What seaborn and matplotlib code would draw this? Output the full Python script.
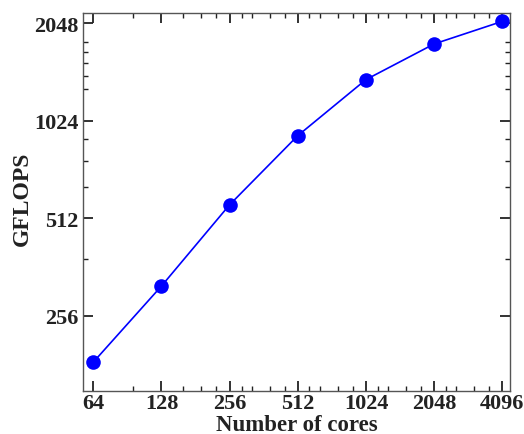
import matplotlib
matplotlib.use("Agg")
import matplotlib.pyplot as plt
import seaborn as sns
import pandas as pd
import numpy as np
from matplotlib.ticker import FixedLocator, FixedFormatter, NullFormatter

cores = [64, 128, 256, 512, 1024, 2048, 4096]
gflops = [184, 316, 563, 920, 1370, 1765, 2072]
x_ticks = [64, 128, 256, 512, 1024, 2048, 4096]
x_tick_labels = ["64", "128", "256", "512", "1024", "2048", "4096"]
y_ticks = [256, 512, 1024, 2048]
y_tick_labels = ["256", "512", "1024", "2048"]
x_minor = [96, 160, 192, 224, 290, 320, 384, 448, 576, 640, 768, 896,
           1152, 1280, 1536, 1792, 2304, 2560, 3072, 3584]
y_minor = [384, 640, 768, 896, 1280, 1408, 1536, 1664, 1792]

sns.set_style("ticks")
plt.rcParams['font.family'] = ['Liberation Serif', 'DejaVu Serif']
plt.rcParams['font.weight'] = 'bold'

df = pd.DataFrame({"cores": cores, "gflops": gflops})

fig = plt.figure(figsize=(5.24, 4.35), dpi=100)
ax = fig.add_axes([83/524, 1-392/435, (510-83)/524, (392-14)/435])

sns.lineplot(data=df, x="cores", y="gflops", ax=ax, color="#0000ff",
             marker="o", markersize=10.5, markeredgewidth=0, linewidth=1.2)

ax.set_xscale("log", base=2)
ax.set_yscale("log", base=2)
ax.set_xlim(64 * 2 ** -0.151, 4096 * 2 ** 0.113)
ax.set_ylim(256 * 2 ** -0.772, 2048 * 2 ** 0.1026)

ax.xaxis.set_major_locator(FixedLocator(x_ticks))
ax.xaxis.set_major_formatter(FixedFormatter(x_tick_labels))
ax.xaxis.set_minor_locator(FixedLocator(x_minor))
ax.xaxis.set_minor_formatter(NullFormatter())
ax.yaxis.set_major_locator(FixedLocator(y_ticks))
ax.yaxis.set_major_formatter(FixedFormatter(y_tick_labels))
ax.yaxis.set_minor_locator(FixedLocator(y_minor))
ax.yaxis.set_minor_formatter(NullFormatter())

for s in ax.spines.values():
    s.set_color("#555555")
    s.set_linewidth(1.0)

ax.tick_params(which="both", direction="in", top=True, right=True,
               colors="#222222", labelcolor="#222222")
ax.tick_params(which="major", length=7, width=1.3, labelsize=16, pad=3.5)
ax.tick_params(axis="x", which="major", pad=1.5)
ax.tick_params(which="minor", length=3.5, width=1.0)
for lab in ax.get_xticklabels() + ax.get_yticklabels():
    lab.set_fontweight("bold")

ax.set_xlabel("Number of cores", fontsize=16.5, fontweight="bold", color="#222222")
ax.set_ylabel("GFLOPS", fontsize=17, fontweight="bold", color="#222222")
ax.xaxis.set_label_coords(0.5, -0.06, transform=ax.transAxes)
ax.yaxis.set_label_coords(-0.117, 0.51, transform=ax.transAxes)

fig.savefig("out.png", dpi=100)
